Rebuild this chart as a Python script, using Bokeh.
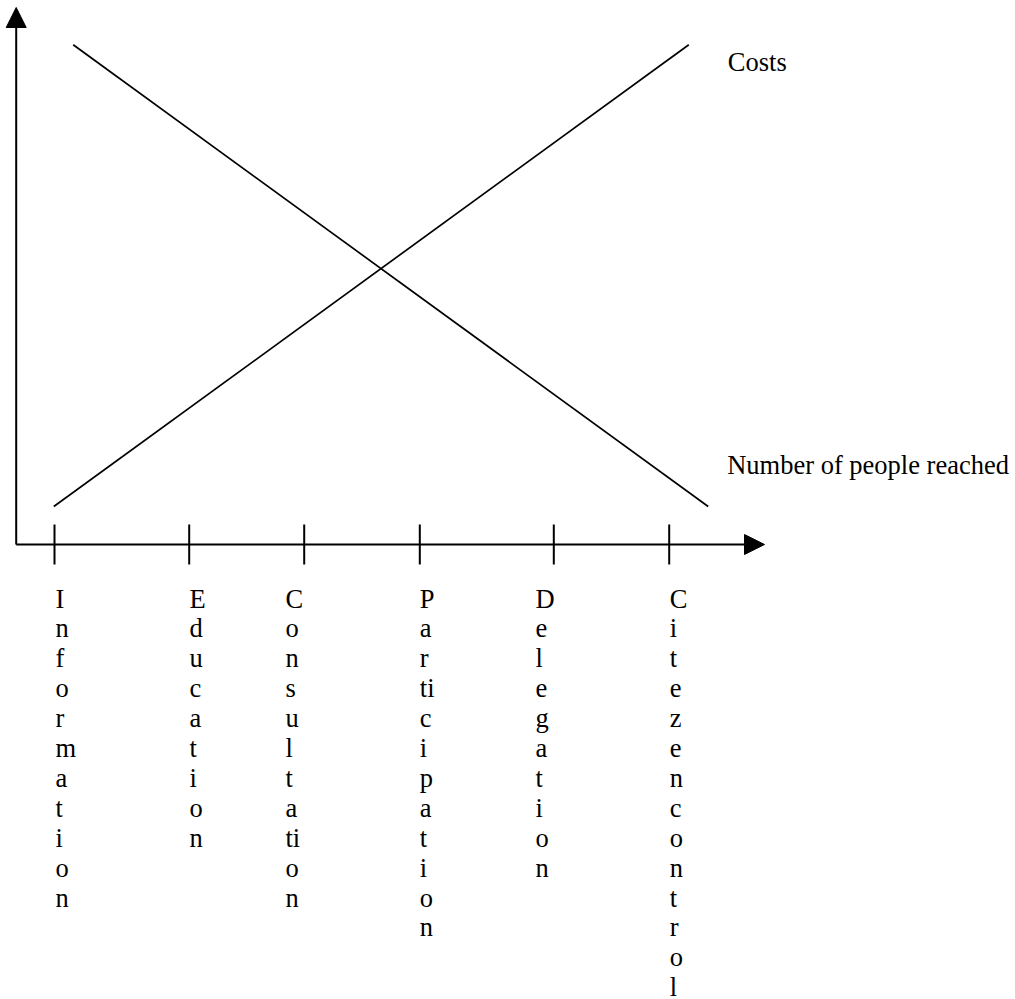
from bokeh.plotting import figure
from bokeh.models import Range1d, Arrow, NormalHead, ColumnDataSource
from bokeh.core.properties import value
from bokeh.embed import file_html
from bokeh.resources import INLINE

# ---- data (diagram units; origin at axis crossing) ----
stages = ["Information", "Education", "Consultation", "Participation", "Delegation", "Citezencontrol"]
stage_rows = [
    ["I", "n", "f", "o", "r", "m", "a", "t", "i", "o", "n"],
    ["E", "d", "u", "c", "a", "t", "i", "o", "n"],
    ["C", "o", "n", "s", "u", "l", "t", "a", "ti", "o", "n"],
    ["P", "a", "r", "ti", "c", "i", "p", "a", "t", "i", "o", "n"],
    ["D", "e", "l", "e", "g", "a", "t", "i", "o", "n"],
    ["C", "i", "t", "e", "z", "e", "n", "c", "o", "n", "t", "r", "o", "l"],
]
stage_tick_x = [38.3, 173.0, 288.0, 403.6, 537.6, 653.0]
stage_label_x = [39.3, 173.3, 269.3, 403.6, 519.3, 653.6]

costs_x = [37.6, 672.6]
costs_y = [38.0, 499.7]
people_x = [57.0, 692.0]
people_y = [499.7, 38.0]

series_names = ["Costs", "Number of people reached"]
series_label_x = [711.6, 711.0]
series_label_y = [482.3, 80.0]

x_axis_end = 748.3
y_axis_end = 537.0

# ---- layout ----
W, H = 1015, 999
FONT = "Liberation Serif"
FS = "26.5px"
ROW = 29.9
FIRST_BASELINE = -54.0
TICK_HALF = 20
OX, OY = 15.7, 544.0   # screen position of the axis origin

p = figure(width=W, height=H, output_backend="svg", toolbar_location=None,
           x_range=Range1d(-OX, W - OX), y_range=Range1d(OY - H, OY),
           min_border=0, x_axis_type=None, y_axis_type=None,
           background_fill_color="white", border_fill_color="white")
p.grid.visible = False
p.outline_line_color = None

# axes with arrow heads
p.add_layout(Arrow(end=NormalHead(size=20, fill_color="black", line_color="black", line_width=1),
                   x_start=0, y_start=0, x_end=x_axis_end, y_end=0,
                   line_width=2, line_color="black"))
p.add_layout(Arrow(end=NormalHead(size=20, fill_color="black", line_color="black", line_width=1),
                   x_start=0, y_start=0, x_end=0, y_end=y_axis_end,
                   line_width=2, line_color="black"))

# tick marks
p.segment(x0=stage_tick_x, y0=[-TICK_HALF] * len(stage_tick_x),
          x1=stage_tick_x, y1=[TICK_HALF] * len(stage_tick_x),
          line_width=2, line_color="black")

# lines
p.line(costs_x, costs_y, line_width=1.7, line_color="black")
p.line(people_x, people_y, line_width=1.7, line_color="black")

# series labels
p.text(x=series_label_x, y=series_label_y, text=series_names,
       text_font=value(FONT), text_font_size=FS, text_color="black",
       text_align="left", text_baseline="alphabetic")

# vertical stage labels (one row per character group)
lx, ly, lt = [], [], []
for xs, rows in zip(stage_label_x, stage_rows):
    for i, ch in enumerate(rows):
        lx.append(xs)
        ly.append(FIRST_BASELINE - i * ROW)
        lt.append(ch)
src = ColumnDataSource(dict(x=lx, y=ly, t=lt))
p.text(x="x", y="y", text="t", source=src,
       text_font=value(FONT), text_font_size=FS, text_color="black",
       text_align="left", text_baseline="alphabetic")

open("out.html", "w").write(file_html(p, INLINE))
